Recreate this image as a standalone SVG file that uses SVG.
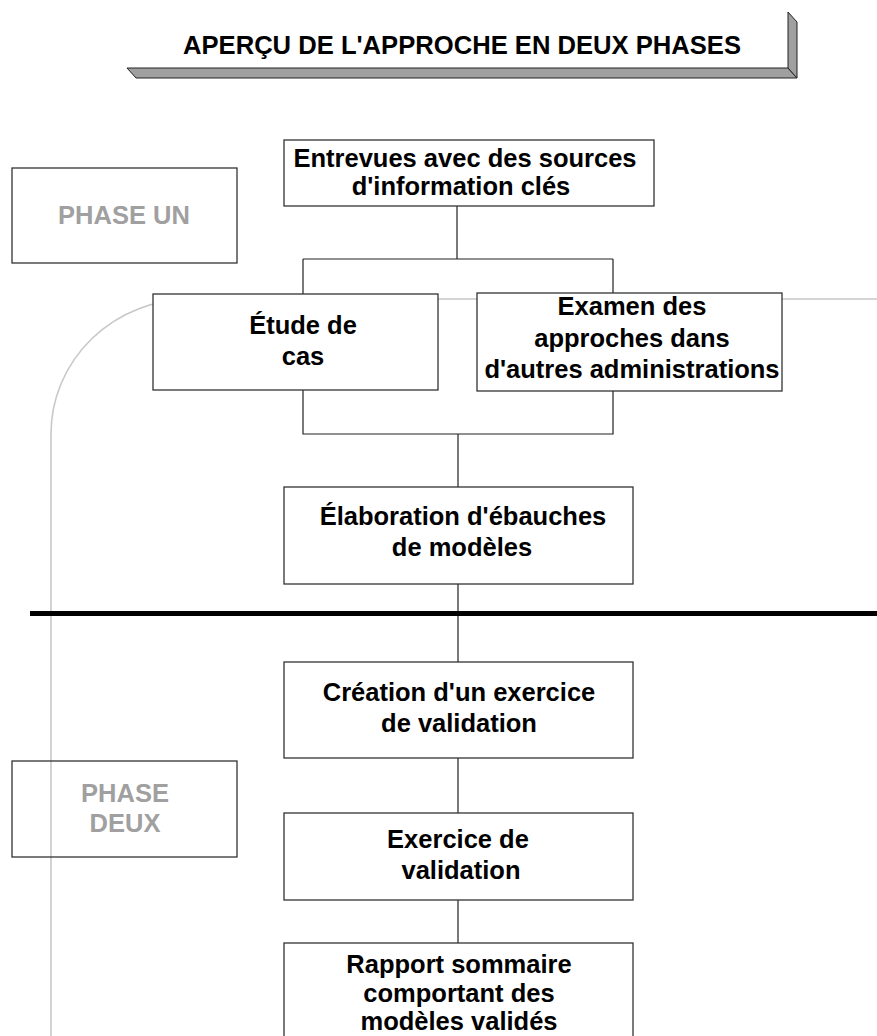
<svg xmlns="http://www.w3.org/2000/svg" width="877" height="1036" viewBox="0 0 877 1036">
<defs>
<style>
.node{fill:#ffffff;stroke:#333333;stroke-width:1.3}
.phase{fill:none;stroke:#333333;stroke-width:1.3}
.t{font-family:"Liberation Sans",Arial,sans-serif;font-weight:bold;font-size:25.5px;fill:#000000;text-anchor:middle}
.title{font-family:"Liberation Sans",Arial,sans-serif;font-weight:bold;font-size:26px;fill:#000000;text-anchor:middle}
.pt{font-family:"Liberation Sans",Arial,sans-serif;font-weight:bold;font-size:25.5px;fill:#a0a0a0;text-anchor:middle}
.conn{fill:none;stroke:#222222;stroke-width:1.2}
.guide{fill:none;stroke:#c8c8c8;stroke-width:1.6}
</style>
</defs>
<rect width="877" height="1036" fill="#ffffff"/>

<g id="title">
<polygon points="127,68 788,68 797,78 136,78" fill="#a0a0a0" stroke="#222222" stroke-width="1"/>
<polygon points="788,12 797,22 797,78 788,68" fill="#a0a0a0" stroke="#222222" stroke-width="1"/>
<text x="462" y="54" class="title" textLength="558" lengthAdjust="spacingAndGlyphs">APERÇU DE L'APPROCHE EN DEUX PHASES</text>
</g>

<g id="guide-line">
<path class="guide" d="M877 299 H191 A140 135 0 0 0 51 434 V1036"/>
</g>

<g id="connectors">
<path class="conn" d="M457 206 V259 M303 259 H613 M303 259 V294 M613 259 V293"/>
<path class="conn" d="M303 390 V434 H613 V391 M458 434 V487"/>
<path class="conn" d="M458 584 V662 M458 758 V813 M458 900 V943"/>
</g>

<g id="phase-un">
<rect class="phase" x="12" y="168" width="225" height="95"/>
<text class="pt" x="124" y="224">PHASE UN</text>
</g>

<g id="entrevues">
<rect class="node" x="284" y="140" width="370" height="66"/>
<text class="t" x="465" y="167">Entrevues avec des sources</text>
<text class="t" x="461" y="195">d'information clés</text>
</g>

<g id="etude">
<rect class="node" x="153" y="294" width="285" height="96"/>
<text class="t" x="303" y="334">Étude de</text>
<text class="t" x="303" y="365">cas</text>
</g>

<g id="examen">
<rect class="node" x="477" y="293" width="305" height="98"/>
<text class="t" x="632" y="315">Examen des</text>
<text class="t" x="632" y="347">approches dans</text>
<text class="t" x="632" y="378">d'autres administrations</text>
</g>

<g id="elaboration">
<rect class="node" x="284" y="487" width="349" height="97"/>
<text class="t" x="463" y="525">Élaboration d'ébauches</text>
<text class="t" x="462" y="556">de modèles</text>
</g>

<g id="separator">
<rect x="30" y="611" width="847" height="5" fill="#000000"/>
</g>

<g id="creation">
<rect class="node" x="284" y="662" width="349" height="96"/>
<text class="t" x="459" y="701">Création d'un exercice</text>
<text class="t" x="459" y="732">de validation</text>
</g>

<g id="phase-deux">
<rect class="phase" x="12" y="761" width="225" height="96"/>
<text class="pt" x="125" y="802">PHASE</text>
<text class="pt" x="125" y="832">DEUX</text>
</g>

<g id="exercice">
<rect class="node" x="284" y="813" width="349" height="87"/>
<text class="t" x="458" y="848">Exercice de</text>
<text class="t" x="461" y="879">validation</text>
</g>

<g id="rapport">
<rect class="node" x="284" y="943" width="349" height="100"/>
<text class="t" x="459" y="973">Rapport sommaire</text>
<text class="t" x="459" y="1002">comportant des</text>
<text class="t" x="459" y="1030">modèles validés</text>
</g>
</svg>
